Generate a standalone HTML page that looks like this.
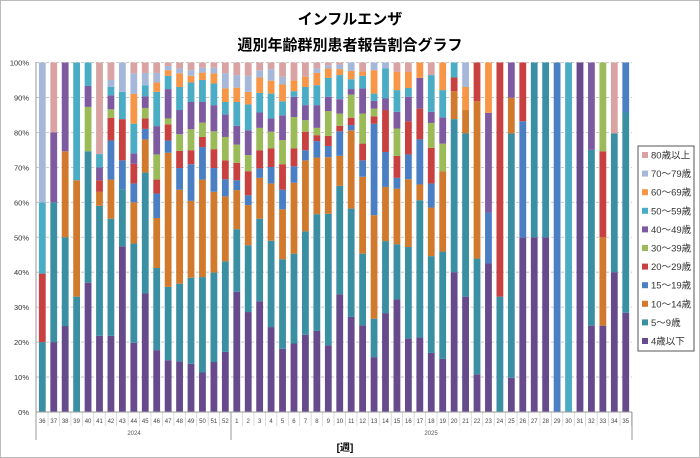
<!DOCTYPE html>
<html><head><meta charset="utf-8"><style>
body{margin:0;background:#fff;}
svg{display:block;font-family:"Liberation Sans","Noto Sans CJK JP",sans-serif;}
</style></head><body>
<svg id="s" width="700" height="458" xmlns="http://www.w3.org/2000/svg">
<rect x="0.5" y="0.5" width="699" height="457" fill="#fff" stroke="#bbb"/>
<text x="350" y="24" text-anchor="middle" font-size="15" font-weight="bold" fill="#000">インフルエンザ</text>
<text x="350" y="50" text-anchor="middle" font-size="15" font-weight="bold" fill="#000">週別年齢群別患者報告割合グラフ</text>
<g id="g"></g>
<text x="345" y="451" text-anchor="middle" font-size="10" font-weight="bold">[週]</text>
<text x="134" y="435" text-anchor="middle" font-size="6" fill="#555">2024</text>
<text x="431" y="435" text-anchor="middle" font-size="6" fill="#555">2025</text>
<rect x="638" y="146" width="56" height="205" fill="#fff" stroke="#555"/>
<g id="lg" font-size="9.5" fill="#333"></g>
</svg>
<script>
var C={a:"#664a8c",b:"#3a8fa3",c:"#d17a2e",d:"#4a7fc4",e:"#c84040",f:"#9bbb59",g:"#7e5aa0",h:"#4bacc6",i:"#f79646",j:"#a6b8da",k:"#d9a3a3"};
var D=[
"b20 e39.6 h60 j100","a20 b60 g80 k100","a24.6 b50 c74.6 g100","b33 c66.3 h100",
"a37 b74.6 f87.3 g93.3 h100","a21.8 b59 c63 e66.3 g70 h73.8 k100",
"a21.8 b55.3 c66.5 d77.7 e84.2 f86.6 g90.6 h93 j95 k100","a47.4 b63.7 d72 e83.8 h91.6 j100",
"a19.8 b48.2 c60 d65.4 e71 g74 h82.5 i91 j96.9 k100","a33.9 b68.5 c78 d81 e84 f87 g90.3 h93.5 j97 k100",
"a17.7 b41.2 c55.5 d62.5 e66.5 f73.7 g81.8 h91.6 i94.3 j97 k100","a14.8 b35.8 c74.2 d77.7 e82.3 f84 g92.4 h96.2 i97.8 j99 k100",
"a14.5 b36.7 c63.6 d69.8 e74.7 f79.5 g86.4 h93 i96.9 j98.3 k100","a13.8 b38.4 c60.4 d70.9 e74.9 f80.9 g88.7 h94.3 i96.2 j97.8 k100",
"a11.3 b38.6 c66.5 d75.8 e78.7 f82.8 g88.7 h95 i97.1 j98.5 k100","a14.3 b39.9 c63 d69.8 e75.2 f80.3 g87.8 h94 i96.9 j98.5 k100",
"a17.2 b43.1 c61.7 d66.6 e72 f78.7 g85.1 h88.7 i92.6 j96.9 k100",
"a34.4 b52.3 c63.5 d66.3 e71.3 f76.5 g81.9 h88.7 i92.8 j96.4 k100","a28.6 b47.7 c59.2 d62 e68.9 f73.5 g80.6 h88 i91.6 j96.2 k100",
"a31.7 b55.3 c67 d69.7 e74.9 f81.3 g85.7 h91.3 i95.7 j97.8 k100","a24.3 b49 c65.4 d70.1 e75.4 f80.2 g84 h91.1 i94.8 j98.1 k100",
"a18.1 b43.7 c58 d63.6 e70.9 f77.8 g84.9 h88.9 i93.7 j95.9 k100","a19.6 b45.3 c65.6 d70.3 e75.4 f84.4 g90.2 h91.8 i94.9 k100",
"a22.1 b51.7 c72 d74.9 e80.2 f83.5 g87.8 h93 i95.9 k100","a23.2 b56.6 c72.8 d77.5 e79.2 f81.3 g87.8 h93.5 i97 j98.3 k100",
"a19.1 b56.7 c72.9 d76.1 e79 f86.1 g90.2 h95.6 i98.3 j99.2 k100","a33.7 b64.7 c73.3 d80.3 e81.9 f85.4 g89.5 h96.4 i98.1 j99.4 k100",
"a27.2 b58.2 c80.6 d82.1 e84.2 f90.8 g92.4 h95.2 i97.6 j100","a24.8 b45.3 c67.3 d72 e76.8 f85.4 g92.6 h96.2 i97.4 k100",
"a15.7 b26.7 c56.3 d82.5 e84.6 f86.8 g89 h91.1 i97.8 j100","a28.3 b48.9 c64.4 d74.4 e86.4 g89.7 h98.3 j100",
"a32.2 b48 c63.9 d67 e73.3 f81.1 g85.9 h92.1 i97.3 k100","a21 b47.2 c66.6 d73.7 e83.2 g90.2 h92.7 i97.3 k100",
"a21.3 b60.6 c65.1 d78 e86.8 g95.6 i100","a16.9 b44.6 c58.5 d65.4 e75.6 f82.7 g85.9 h96.4 k100",
"a15.2 b45.9 c68.9 f76.8 g84.3 h92.1 i100","a40 b83.8 c91.8 e95.7 h100","a33 b79.7 c86.4 i93 j100",
"a10.8 b43.9 c88.9 e100","a42.5 d57.1 g85.6 i100","b33 e100","a9.8 b79.7 c89.9 g100","a49.9 d83.2 e100",
"a50 b100","a50 b100","d100","h100","a100","a24.7 b75 g100","a24.7 c50 e74.6 f100","a40 b79.7 k100","a28.4 b85.7 d100"];
var h='',X0=42.3,dx=11.44,Y0=412,H=349.5,w=6.8;
for(var p=0;p<=10;p++){var y=Y0-H*p/10;
 h+='<line x1="36" x2="632" y1="'+y+'" y2="'+y+'" stroke="#bbb" stroke-dasharray="3,2" stroke-width="0.8"/>';
 h+='<text x="29" y="'+(y+3)+'" text-anchor="end" font-size="7.5" fill="#333">'+(p*10)+'%</text>';}
var wk=[];for(var i=36;i<=52;i++)wk.push(i);for(i=1;i<=35;i++)wk.push(i);
D.forEach(function(s,i){var x=X0+i*dx-w/2,prev=0;s.split(' ').forEach(function(t){var k=t[0],v=parseFloat(t.slice(1));
 var y1=Y0-H*v/100,y2=Y0-H*prev/100;h+='<rect x="'+x+'" y="'+y1+'" width="'+w+'" height="'+(y2-y1)+'" fill="'+C[k]+'"/>';prev=v;});
 var cx=X0+i*dx;h+='<text x="'+cx+'" y="423" text-anchor="middle" font-size="6" fill="#444">'+wk[i]+'</text>';
 h+='<line x1="'+(cx+dx/2)+'" x2="'+(cx+dx/2)+'" y1="412" y2="426" stroke="#ccc" stroke-width="0.7"/>';});
h+='<line x1="36" x2="36" y1="62" y2="440" stroke="#999"/><line x1="36" x2="632" y1="412" y2="412" stroke="#999"/>';
h+='<line x1="231" x2="231" y1="412" y2="440" stroke="#999"/><line x1="632" x2="632" y1="412" y2="440" stroke="#999"/>';
document.getElementById('g').innerHTML=h;
var L=[["k","80歳以上"],["j","70～79歳"],["i","60～69歳"],["h","50～59歳"],["g","40～49歳"],["f","30～39歳"],["e","20～29歳"],["d","15～19歳"],["c","10～14歳"],["b","5～9歳"],["a","4歳以下"]];
var l='';L.forEach(function(o,i){var y=155+i*18.6;l+='<rect x="642" y="'+(y-3)+'' +'" width="6" height="6" fill="'+C[o[0]]+'"/><text x="651" y="'+(y+3.5)+'">'+o[1]+'</text>';});
document.getElementById('lg').innerHTML=l;
</script>
</body></html>
